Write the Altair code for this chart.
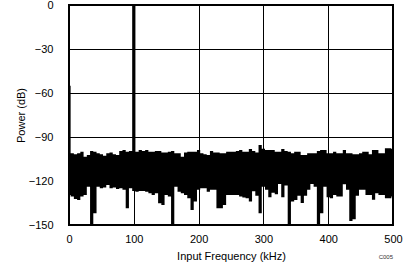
import altair as alt
import pandas as pd

# Spectrum, one bin every 5 kHz
freq_khz = list(range(0, 505, 5))
upper_db = [
    -55, -101, -101.8, -101, -100, -103.4, -102.3, -99.5, -100, -101,
    -101.8, -102.7, -101, -100.5, -101.8, -102.3, -99.5, -98.9, -100, -99.5,
    0, -100, -98.9, -99.5, -98.9, -100, -100, -99.5, -99.5, -100.5,
    -100.5, -100, -99.5, -101, -101, -103.4, -100.5, -100, -100, -100,
    -98.9, -101, -101.8, -102.3, -99.5, -100.5, -100.5, -101, -101, -100,
    -100, -100, -99.5, -98.9, -100, -100, -98.2, -99.5, -100.5, -95.5,
    -98, -98.9, -98.9, -98.9, -100, -100, -98.2, -99.5, -100, -101,
    -100, -100, -102.3, -102.3, -101, -101, -101, -99.5, -98.9, -98.9,
    -101, -101, -100, -101, -101, -98.9, -101, -101, -101.8, -101.8,
    -101, -100, -100, -101.8, -98.9, -98.9, -101, -101, -97.7, -97.7,
    -98.2,
]
lower_db = [
    -129.5, -130.6, -132.2, -133, -130.6, -129.5, -124, -150, -142, -124,
    -125, -124.5, -122.7, -125, -124.5, -125.5, -125, -126, -138.5, -125,
    -126.8, -127.3, -126.8, -126.8, -127.3, -128.4, -129.5, -128.4, -135.2, -136.4,
    -129.5, -130.6, -150, -123.9, -127.3, -128.4, -129.5, -131.8, -139.7, -134,
    -126, -125, -125, -127.3, -126, -126, -138.5, -138.5, -136.4, -129.5,
    -129.5, -129.5, -129.5, -130.6, -131.3, -131.8, -134, -127, -130, -142,
    -124, -126, -131, -128, -129, -122, -131, -123, -150, -134,
    -133, -130, -135, -130, -126, -122, -124, -150, -142, -124,
    -131, -131.8, -129.5, -130.6, -130.6, -122.3, -126, -147.3, -146, -130,
    -126, -126, -129.5, -129.5, -132.7, -128.4, -129.5, -129.5, -131.8, -131.8,
    -130.6,
]
x_ticks = [0, 100, 200, 300, 400, 500]
y_ticks = [-150, -120, -90, -60, -30, 0]
note_text = ["C005"]

df = pd.DataFrame({"f": freq_khz, "hi": upper_db, "lo": lower_db})

FONT = "Liberation Sans"

x_enc = alt.X(
    "f:Q",
    scale=alt.Scale(domain=[0, 500], nice=False, zero=False),
    axis=alt.Axis(values=x_ticks, title="Input Frequency (kHz)", format="d",
                  labelPadding=8, titlePadding=6),
)
y_enc = alt.Y(
    "hi:Q",
    scale=alt.Scale(domain=[-150, 0], nice=False, zero=False),
    axis=alt.Axis(values=y_ticks, title="Power (dB)", format="d",
                  labelPadding=16, titlePadding=2),
)

band = alt.Chart(df).mark_area(
    interpolate="step", color="black", opacity=1, clip=True
).encode(x=x_enc, y=y_enc, y2="lo:Q")

note = alt.Chart(pd.DataFrame({"t": note_text})).mark_text(
    align="right", baseline="middle", font=FONT, fontSize=6, color="#333333"
).encode(x=alt.value(324), y=alt.value(251.5), text="t:N")

chart = (
    alt.layer(band, note)
    .properties(
        width=324,
        height=220,
        padding={"left": 69, "top": 5, "right": 14, "bottom": 42},
        autosize=alt.AutoSizeParams(type="none"),
        background="white",
    )
    .configure_view(stroke="black", strokeWidth=2)
    .configure_axis(
        grid=True,
        gridColor="black",
        gridWidth=1,
        gridOpacity=1,
        domain=False,
        ticks=False,
        labelFlush=False,
        labelFont=FONT,
        labelFontSize=11,
        labelColor="black",
        titleFont=FONT,
        titleFontSize=11,
        titleFontWeight="normal",
        titleColor="black",
    )
)

chart.save("out.html", embed_options={"renderer": "svg", "actions": False})
